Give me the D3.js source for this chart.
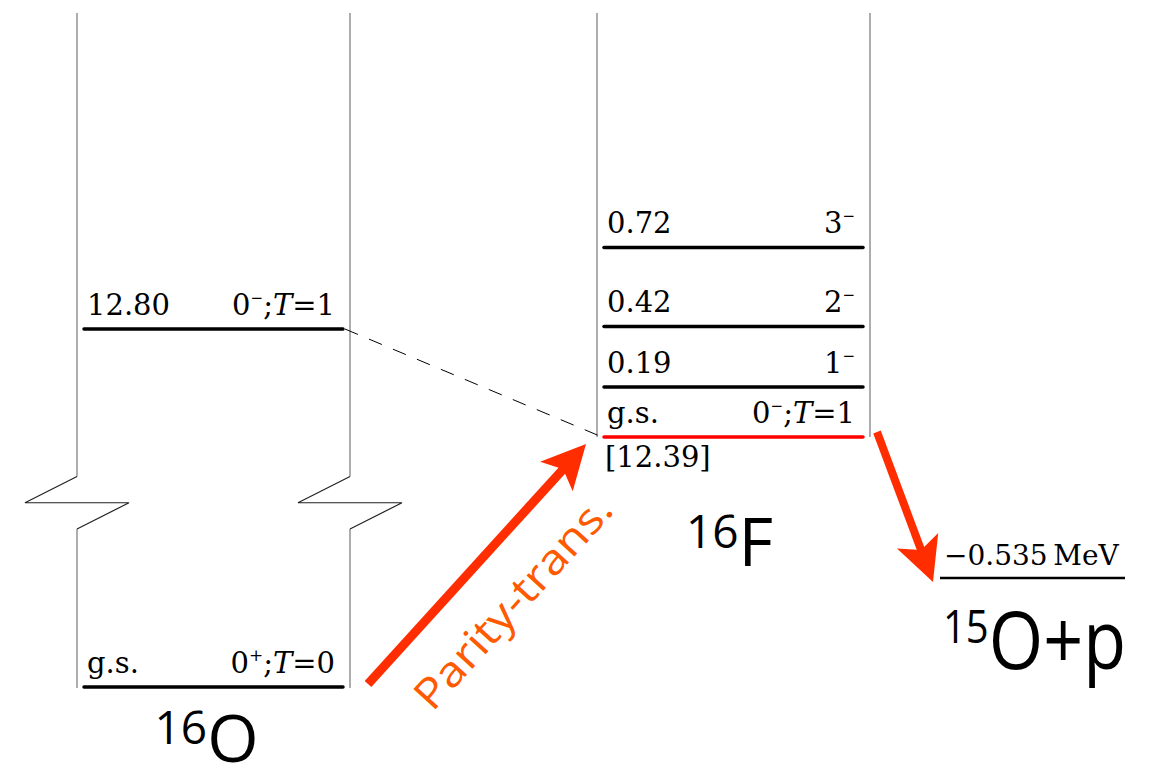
<!DOCTYPE html>
<html>
<head>
<meta charset="utf-8">
<script src="https://cdn.jsdelivr.net/npm/d3@7"></script>
<style>
  html, body { margin: 0; padding: 0; background: #fff; }
  svg { display: block; }
</style>
</head>
<body>
<svg id="chart" width="1154" height="769"></svg>
<script>
// Level scheme of 16O and 16F, with the 15O+p threshold.

// Columns
const nuclei = ['16O', '16F'];
const massNumbers = ['16', '16'];
const elements = ['O', 'F'];

// 16O levels, energy above the 16O g.s. (MeV)
const o16Energies = [0, 12.80];
const o16Names = ['g.s.', '12.80'];
const o16Spins = ['0', '0'];
const o16Parities = ['+', '-'];
const o16Isospins = [0, 1];

// 16F levels, energy above the 16F g.s. (MeV)
const f16Energies = [0, 0.19, 0.42, 0.72];
const f16Names = ['g.s.', '0.19', '0.42', '0.72'];
const f16Spins = ['0', '1', '2', '3'];
const f16Parities = ['-', '-', '-', '-'];
const f16Isospins = [1, null, null, null];

// 16F g.s. on the 16O scale, and the 15O+p threshold relative to the 16F g.s.
const f16Ground = 12.39;
const protonThreshold = -0.535;
const thresholdMass = '15';
const thresholdName = 'O+p';
const transitionLabel = 'Parity-trans.';

// Top of the drawn energy range, and where the axis is broken
const E_TOP = 14.0;
const E_BREAK = 12.24;
const E_LOW_TOP = 0.6;

const svg = d3.select('#chart');

// Scales
const x = d3.scaleBand()
  .domain(nuclei)
  .range([77, 870])
  .paddingInner(0.475)
  .paddingOuter(0);
const bw = x.bandwidth();

// Upper part of the broken axis (around 12-14 MeV) and the lower part (g.s.)
const yHi = d3.scaleLinear().domain([f16Ground, E_TOP]).range([437, 13]);
const yLo = d3.scaleLinear().domain([0, E_LOW_TOP]).range([687, 529]);
function y(e) { return e < E_LOW_TOP ? yLo(e) : yHi(e); }

const LABEL_FONT = 'DejaVu Serif';
const BIG_FONT = "'Open Sans', Lato, sans-serif";
const ARROW_RED = '#ff2d00';
const TEXT_ORANGE = '#ff5a00';

// Column frames
const frame = svg.append('g')
  .attr('fill', 'none')
  .attr('stroke', '#777')
  .attr('stroke-width', 1.2);

// 16O: broken vertical lines with zigzags
const zigMid = (yHi(E_BREAK) + yLo(E_LOW_TOP)) / 2;
[x('16O'), x('16O') + bw].forEach(function(cx) {
  frame.append('line')
    .attr('x1', cx).attr('x2', cx)
    .attr('y1', yHi(E_TOP)).attr('y2', yHi(E_BREAK));
  frame.append('line')
    .attr('x1', cx).attr('x2', cx)
    .attr('y1', yLo(E_LOW_TOP)).attr('y2', yLo(0) + 1);
  frame.append('path')
    .attr('stroke', '#222')
    .attr('d', d3.line()([
      [cx, yHi(E_BREAK)],
      [cx - 52, zigMid],
      [cx + 52, zigMid],
      [cx, yLo(E_LOW_TOP)]
    ]));
});

// 16F: vertical lines down to its g.s.
[x('16F'), x('16F') + bw].forEach(function(cx) {
  frame.append('line')
    .attr('x1', cx).attr('x2', cx)
    .attr('y1', yHi(E_TOP)).attr('y2', yHi(f16Ground));
});

// Draw one level line and its labels
function drawLevel(x0, x1, yy, name, spin, parity, iso, color) {
  svg.append('line')
    .attr('x1', x0 + 7).attr('x2', x1 - 7)
    .attr('y1', yy).attr('y2', yy)
    .attr('stroke', color)
    .attr('stroke-width', 3.5)
    .attr('stroke-linecap', 'round');

  svg.append('text')
    .attr('x', x0 + 10)
    .attr('y', yy - 14)
    .attr('font-family', LABEL_FONT)
    .attr('font-size', 29)
    .text(name);

  const t = svg.append('text')
    .attr('x', x1 - 15)
    .attr('y', yy - 14)
    .attr('text-anchor', 'end')
    .attr('font-family', LABEL_FONT)
    .attr('font-size', 29);
  t.append('tspan').text(spin);
  t.append('tspan')
    .attr('dy', -12)
    .attr('font-size', parity === '+' ? 17 : 15)
    .text(parity === '+' ? '+' : '\u2212');
  if (iso !== null) {
    t.append('tspan').attr('dy', 12).text(';');
    t.append('tspan').attr('font-style', 'italic').text('T');
    t.append('tspan').text('=' + iso);
  }
}

// 16O levels
o16Energies.forEach(function(e, i) {
  drawLevel(x('16O'), x('16O') + bw, y(e), o16Names[i], o16Spins[i],
    o16Parities[i], o16Isospins[i], '#000');
});

// 16F levels (energies shifted onto the 16O scale)
f16Energies.forEach(function(e, i) {
  drawLevel(x('16F'), x('16F') + bw, yHi(f16Ground + e), f16Names[i], f16Spins[i],
    f16Parities[i], f16Isospins[i], i === 0 ? '#ff0000' : '#000');
});

// Energy of the 16F g.s. below its line
svg.append('text')
  .attr('x', x('16F') + 8)
  .attr('y', yHi(f16Ground) + 30)
  .attr('font-family', LABEL_FONT)
  .attr('font-size', 29)
  .text('[' + d3.format('.2f')(f16Ground) + ']');

// Dashed analog connection: 16O 12.80 level -> 16F g.s.
svg.append('line')
  .attr('x1', x('16O') + bw - 5).attr('y1', y(o16Energies[1]))
  .attr('x2', x('16F') + 5).attr('y2', yHi(f16Ground))
  .attr('stroke', '#000')
  .attr('stroke-width', 1)
  .attr('stroke-dasharray', '14,12');

// 15O+p threshold
const thrY = yHi(f16Ground + protonThreshold);
const thrX0 = x('16F') + bw + 70;
const thrX1 = thrX0 + 185;
svg.append('line')
  .attr('x1', thrX0).attr('x2', thrX1)
  .attr('y1', thrY).attr('y2', thrY)
  .attr('stroke', '#000')
  .attr('stroke-width', 2.5);

svg.append('text')
  .attr('x', thrX0 + 4)
  .attr('y', thrY - 13)
  .attr('font-family', LABEL_FONT)
  .attr('font-size', 28)
  .text(d3.format('.3f')(protonThreshold) + '\u2009MeV');

// Arrow: thick shaft with a notched head
function drawArrow(tail, tip, width) {
  const dx = tip[0] - tail[0], dy = tip[1] - tail[1];
  const len = Math.hypot(dx, dy);
  const u = [dx / len, dy / len];
  const n = [-u[1], u[0]];
  const headLen = 44, headHalf = 22, notch = 34;
  const back = [tip[0] - u[0] * headLen, tip[1] - u[1] * headLen];
  const nb = [tip[0] - u[0] * notch, tip[1] - u[1] * notch];
  svg.append('line')
    .attr('x1', tail[0]).attr('y1', tail[1])
    .attr('x2', nb[0] + u[0] * 2).attr('y2', nb[1] + u[1] * 2)
    .attr('stroke', ARROW_RED)
    .attr('stroke-width', width);
  svg.append('path')
    .attr('fill', ARROW_RED)
    .attr('d', d3.line()([
      tip,
      [back[0] + n[0] * headHalf, back[1] + n[1] * headHalf],
      nb,
      [back[0] - n[0] * headHalf, back[1] - n[1] * headHalf]
    ]) + 'Z');
  return { u: u, n: n };
}

// Parity-violating transition: 16O g.s. -> 16F g.s.
const a1Tail = [x('16O') + bw + 18, y(0) - 3];
const a1Tip = [x('16F') - 11, yHi(f16Ground) + 7];
const a1 = drawArrow(a1Tail, a1Tip, 9);

// Label runs along the arrow, on its lower right side
const angle = Math.atan2(a1.u[1], a1.u[0]) * 180 / Math.PI;
const tx = a1Tail[0] + a1.u[0] * 22 + a1.n[0] * 67;
const ty = a1Tail[1] + a1.u[1] * 22 + a1.n[1] * 67;
svg.append('text')
  .attr('transform', 'translate(' + tx + ',' + ty + ') rotate(' + angle + ')')
  .attr('font-family', BIG_FONT)
  .attr('font-size', 42)
  .attr('fill', TEXT_ORANGE)
  .attr('textLength', 272)
  .attr('lengthAdjust', 'spacingAndGlyphs')
  .text(transitionLabel);

// Proton decay: 16F g.s. -> 15O+p
drawArrow([x('16F') + bw + 7, yHi(f16Ground) - 5], [thrX0 - 7, thrY + 4], 8);

// Nucleus labels
function nucleusLabel(cx, baseline, mass, rest, size, supSize, rise, sy) {
  const t = svg.append('text')
    .attr('transform', 'translate(' + cx + ',' + baseline + ') scale(1,' + sy + ')')
    .attr('text-anchor', 'middle')
    .attr('font-family', BIG_FONT)
    .attr('font-size', size)
    .attr('fill', '#000');
  t.append('tspan').attr('font-size', supSize).attr('dy', -rise).text(mass);
  t.append('tspan').attr('dy', rise).text(rest);
}

nucleusLabel(x('16O') + bw / 2 - 7, 762, massNumbers[0], elements[0], 66, 46, 18, 1);
nucleusLabel(x('16F') + bw / 2 - 4, 566, massNumbers[1], elements[1], 67, 46, 18, 1);
nucleusLabel((thrX0 + thrX1) / 2 + 2, 669, thresholdMass, thresholdName, 70, 40, 23, 1.15);
</script>
</body>
</html>
